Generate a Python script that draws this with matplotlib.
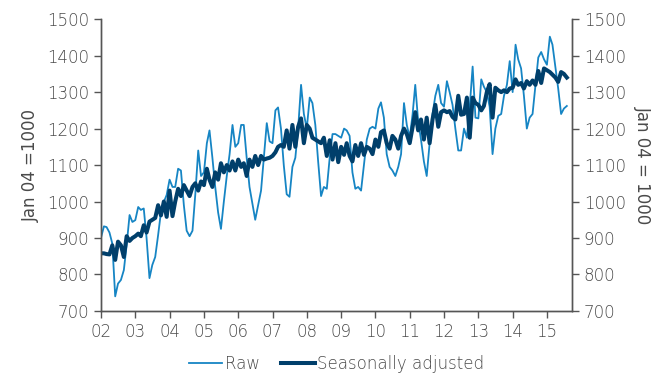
import matplotlib
matplotlib.use("Agg")
import matplotlib.pyplot as plt
import pandas as pd

plt.rcParams['font.family'] = ['DejaVu Sans']
plt.rcParams['font.weight'] = 'light'

# monthly, Jan 2002 - Aug 2015
months = pd.date_range("2002-01-01", periods=164, freq="MS")

raw = [901, 932, 930, 915, 885, 740, 775, 785, 812, 881, 963, 944,
       949, 985, 977, 981, 900, 790, 826, 848, 908, 971, 999, 1018,
       1060, 1040, 1040, 1090, 1085, 990, 920, 905, 920, 1020, 1140, 1070,
       1080, 1160, 1195, 1120, 1040, 970, 925, 1000, 1070, 1130, 1210, 1150,
       1160, 1210, 1210, 1120, 1040, 995, 950, 990, 1030, 1120, 1215, 1165,
       1160, 1250, 1258, 1200, 1100, 1020, 1013, 1095, 1120, 1200, 1320, 1240,
       1200, 1285, 1270, 1210, 1110, 1015, 1040, 1035, 1120, 1185, 1185, 1180,
       1175, 1200, 1195, 1180, 1080, 1035, 1040, 1030, 1100, 1170, 1200, 1205,
       1200, 1255, 1272, 1230, 1130, 1095, 1085, 1070, 1095, 1130, 1270, 1210,
       1175, 1240, 1320, 1220, 1170, 1110, 1070, 1160, 1240, 1290, 1320, 1270,
       1260, 1330, 1300, 1265, 1200, 1140, 1140, 1200, 1175, 1260, 1370, 1230,
       1228, 1335, 1315, 1300, 1260, 1130, 1200, 1235, 1240, 1290, 1320, 1385,
       1300, 1430, 1390, 1365, 1290, 1200, 1230, 1240, 1320, 1395, 1410, 1390,
       1375, 1452, 1430, 1370, 1310, 1240, 1255, 1262]

sa = [858, 858, 856, 855, 880, 840, 890, 880, 848, 905, 892, 900,
      905, 912, 905, 935, 915, 945, 950, 955, 990, 962, 1000, 958,
      1030, 960, 1000, 1035, 1015, 1045, 1030, 1015, 1040, 1050, 1030, 1055,
      1045, 1090, 1060, 1040, 1080, 1060, 1105, 1080, 1100, 1085, 1110, 1085,
      1115, 1095, 1105, 1070, 1115, 1095, 1125, 1100, 1125, 1115, 1118, 1120,
      1125, 1135, 1150, 1155, 1150, 1195, 1145, 1210, 1150, 1205, 1228, 1160,
      1210, 1200, 1175, 1170, 1165, 1160, 1175, 1125, 1168, 1115, 1160, 1108,
      1150, 1128, 1160, 1125, 1110, 1155, 1125, 1160, 1128, 1150, 1145, 1130,
      1170, 1150, 1190, 1195, 1160, 1145, 1180, 1170, 1145, 1180, 1200, 1185,
      1160, 1205, 1245, 1195, 1225, 1170, 1230, 1160, 1225, 1265, 1205, 1245,
      1250, 1245, 1248, 1232, 1225, 1290, 1238, 1240, 1285, 1175, 1285, 1270,
      1265, 1250, 1262, 1300, 1322, 1230, 1312, 1305, 1300, 1305, 1300, 1310,
      1312, 1335, 1320, 1325, 1310, 1330, 1320, 1332, 1320, 1358, 1325, 1365,
      1360, 1355, 1348, 1340, 1328, 1355, 1350, 1340]

year_ticks = pd.date_range("2002-01-01", "2015-01-01", freq="YS")
year_labels = ["%02d" % (d.year % 100) for d in year_ticks]

raw_col = '#1685c4'
sa_col = '#003f6b'
txt_col = '#4a4a4a'
ax_col = '#555555'

fig = plt.figure(figsize=(6.69, 3.76), dpi=100)
ax = fig.add_axes([0.151, 0.173, 0.704, 0.776])

ax.plot(months, raw, color=raw_col, lw=1.3, label='Raw')
ax.plot(months, sa, color=sa_col, lw=2.9, label='Seasonally adjusted')

ax.set_xlim(pd.Timestamp("2002-01-01"), pd.Timestamp("2015-09-25"))
ax.set_ylim(700, 1500)
ax.set_yticks(range(700, 1501, 100))
ax.set_xticks(year_ticks)
ax.set_xticklabels(year_labels)

ax2 = ax.twinx()
ax2.set_ylim(700, 1500)
ax2.set_yticks(range(700, 1501, 100))

for a in (ax, ax2):
    a.spines['top'].set_visible(False)
    for s in ('left', 'right', 'bottom'):
        a.spines[s].set_color(ax_col)
        a.spines[s].set_linewidth(1.0)
    a.tick_params(colors=ax_col, labelcolor=txt_col, labelsize=12,
                  length=5, width=1.0, direction='out')

ax.set_ylabel('Jan 04 =1000', color=txt_col, fontsize=12, labelpad=5)
ax2.set_ylabel('Jan 04 = 1000', color=txt_col, fontsize=12, rotation=270,
               labelpad=19)

ax.legend(loc='upper center', bbox_to_anchor=(0.5, -0.1), ncol=2,
          frameon=False, fontsize=12, labelcolor=txt_col,
          handlelength=2.0, handletextpad=0.15, columnspacing=1.3)

fig.savefig('out.png', dpi=100)
